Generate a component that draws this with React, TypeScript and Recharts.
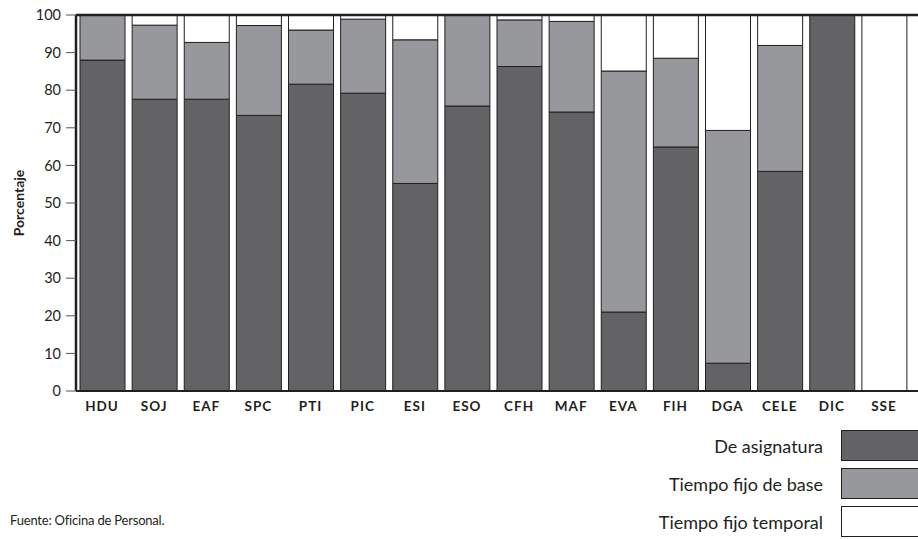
import { BarChart, Bar, XAxis, YAxis, ReferenceLine } from 'recharts';

const categories = ['HDU', 'SOJ', 'EAF', 'SPC', 'PTI', 'PIC', 'ESI', 'ESO', 'CFH', 'MAF', 'EVA', 'FIH', 'DGA', 'CELE', 'DIC', 'SSE'];
const asignatura = [88, 77.6, 77.6, 73.3, 81.6, 79.2, 55.2, 75.8, 86.3, 74.2, 21, 64.9, 7.4, 58.4, 100, 0];
const fijoBase = [12, 19.7, 15.1, 23.9, 14.4, 19.7, 38.2, 24.2, 12.4, 24.1, 64.1, 23.6, 61.9, 33.5, 0, 0];
const fijoTemporal = [0, 2.7, 7.3, 2.8, 4.0, 1.1, 6.6, 0, 1.3, 1.7, 14.9, 11.5, 30.7, 8.1, 0, 100];
const yTicks = [0, 10, 20, 30, 40, 50, 60, 70, 80, 90, 100];

const series = [
  { key: 'asignatura', name: 'De asignatura', color: '#636365' },
  { key: 'base', name: 'Tiempo fijo de base', color: '#97989b' },
  { key: 'temporal', name: 'Tiempo fijo temporal', color: '#ffffff' },
];

const data = categories.map((c, i) => ({
  name: c,
  asignatura: asignatura[i],
  base: fijoBase[i],
  temporal: fijoTemporal[i],
}));

const ink = '#231f20';
const font = 'Lato, "Open Sans", sans-serif';

export default function App() {
  return (
    <div style={{ position: 'absolute', left: 0, top: 0, width: 918, height: 539, fontFamily: font, background: '#fff' }}>
      <BarChart width={918} height={539} data={data} margin={{ top: 15, right: 0, bottom: 118, left: 0 }}>
        <XAxis
          dataKey="name"
          height={30}
          padding={{ left: 0, right: 8 }}
          tickLine={false}
          tickSize={0}
          tickMargin={10}
          interval={0}
          axisLine={{ stroke: ink, strokeWidth: 2 }}
          tick={{ fill: ink, fontSize: 13.5, fontWeight: 700, letterSpacing: 1, fontFamily: font }}
        />
        <YAxis
          width={76}
          domain={[0, 100]}
          ticks={yTicks}
          tickSize={10}
          tickMargin={5}
          axisLine={{ stroke: ink, strokeWidth: 2.5 }}
          tickLine={{ stroke: '#555' }}
          tick={{ fill: ink, fontSize: 14.5, fontFamily: font }}
          label={{
            content: () => (
              <text x={18} y={203} transform="rotate(-90 18 203)" textAnchor="middle" dominantBaseline="central" fontSize={14} fontWeight={700} fill={ink} fontFamily={font}>
                Porcentaje
              </text>
            ),
          }}
        />
        {series.map((s) => (
          <Bar key={s.key} dataKey={s.key} name={s.name} stackId="a" fill={s.color} stroke={ink} strokeWidth={1} barSize={45} isAnimationActive={false} />
        ))}
        <ReferenceLine y={100} stroke={ink} strokeWidth={2.5} />
      </BarChart>
      {series.map((s, i) => (
        <div key={s.key} style={{ position: 'absolute', left: 560, top: 430 + i * 38, width: 358, height: 32 }}>
          <span style={{ position: 'absolute', right: 95, top: 5, fontSize: 18, color: ink, whiteSpace: 'nowrap' }}>{s.name}</span>
          <div style={{ position: 'absolute', left: 281, top: 0, width: 80, height: 31, background: s.color, border: `1px solid ${ink}`, boxSizing: 'border-box' }} />
        </div>
      ))}
      <div style={{ position: 'absolute', left: 10, top: 512, fontSize: 13, color: ink, letterSpacing: -0.2 }}>
        Fuente: Oficina de Personal.
      </div>
    </div>
  );
}
